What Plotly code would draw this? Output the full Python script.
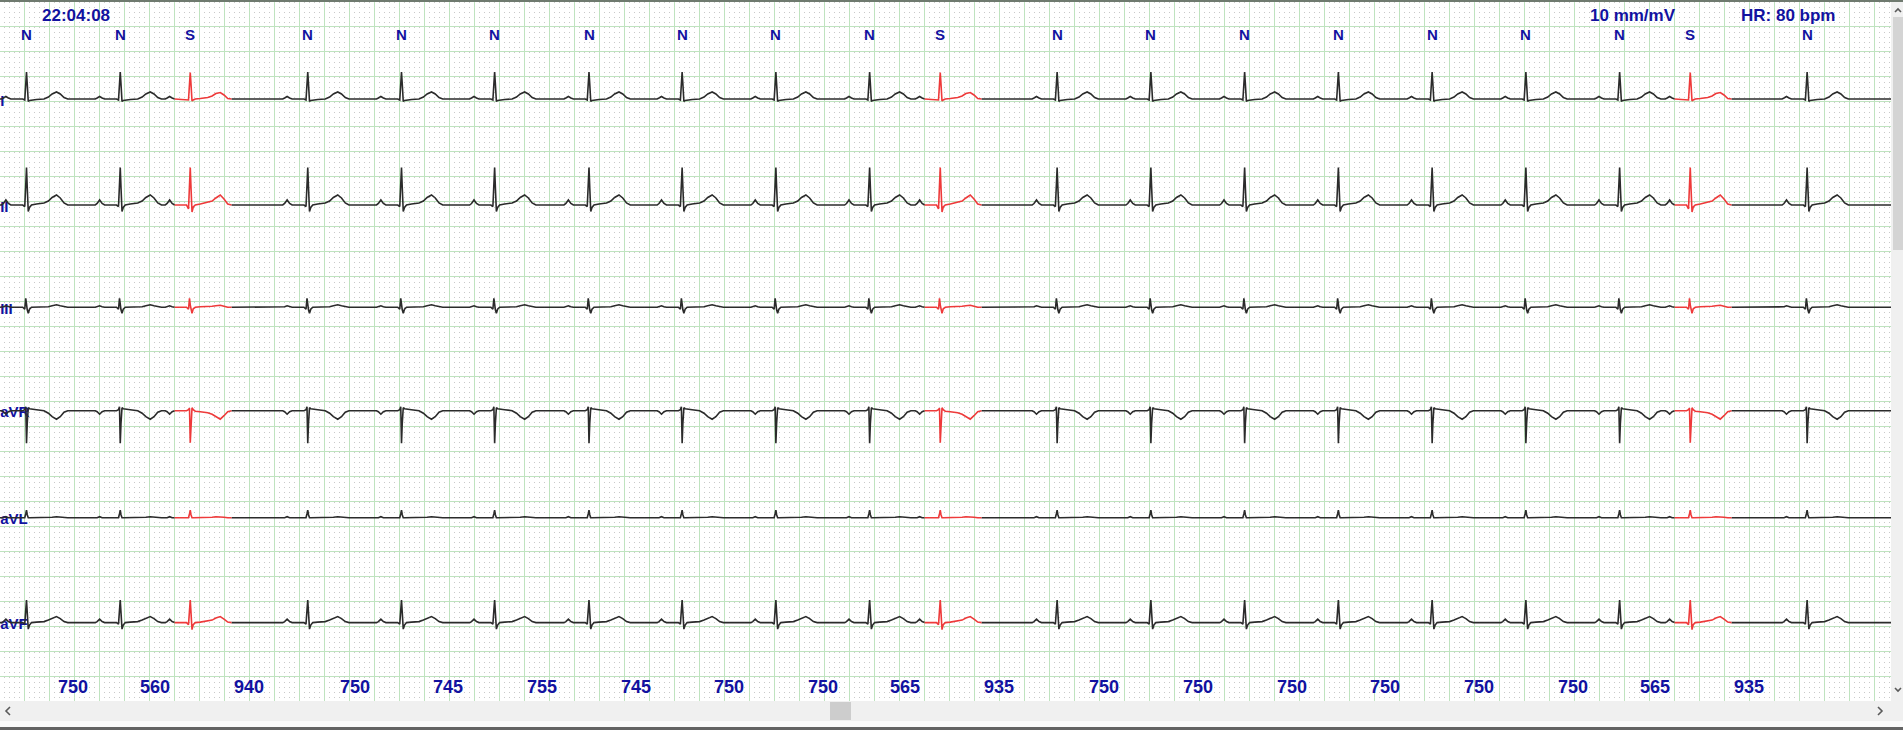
import plotly.graph_objects as go

# ---------------- data ----------------
beat_labels = ["N", "N", "S", "N", "N", "N", "N", "N", "N", "N",
               "S", "N", "N", "N", "N", "N", "N", "N", "S", "N"]
rr_intervals_ms = [750, 560, 940, 750, 745, 755, 745, 750, 750, 565,
                   935, 750, 750, 750, 750, 750, 750, 565, 935]
first_beat_ms = 20
record_time = "22:04:08"
gain_text = "10 mm/mV"
heart_rate_bpm = 80

lead_names = ["I", "II", "III", "aVR", "aVL", "aVF"]
lead_baselines_mv = [-1.946, -4.066, -6.112, -8.18, -10.32, -12.418]

# beat template sample offsets (ms from R peak)
tmpl_offsets_ms = [-200, -185, -165, -145, -125, -30, -14, -6, 0, 6, 14, 24,
                   40, 80, 140, 175, 205, 240, 270, 300, 330]

# normal-beat amplitudes (mV) per lead
n_I = [0, 0.02, 0.05, 0.02, 0, 0, -0.02, 0.30, 0.54, 0.30, -0.05, -0.03,
       -0.02, -0.01, 0.0, 0.04, 0.10, 0.14, 0.10, 0.03, 0]
n_II = [0, 0.03, 0.10, 0.03, 0, 0, -0.03, 0.40, 0.75, 0.35, -0.13, -0.05,
        0.0, 0.02, 0.04, 0.08, 0.15, 0.20, 0.14, 0.04, 0]
n_III = [0, 0.01, 0.03, 0.01, 0, 0, -0.04, 0.18, 0.05, -0.05, -0.12, -0.04,
         0, 0, 0, 0.01, 0.03, 0.05, 0.03, 0.01, 0]
n_aVR = [0, -0.02, -0.07, -0.02, 0, 0, 0.02, 0.08, -0.65, -0.25, 0.06, 0.04,
         0.03, 0.02, 0.0, -0.05, -0.12, -0.17, -0.12, -0.03, 0]
n_aVL = [0, 0, 0.02, 0, 0, 0, 0, 0.08, 0.15, 0.06, 0, 0,
         0, 0, 0, 0, 0.01, 0.02, 0.01, 0, 0]
n_aVF = [0, 0.02, 0.07, 0.02, 0, 0, -0.03, 0.25, 0.45, 0.20, -0.13, -0.05,
         0, 0.01, 0.02, 0.05, 0.09, 0.12, 0.08, 0.02, 0]

# supraventricular (S) beat amplitudes (mV) per lead
s_I = [0, 0.02, 0.05, 0.02, 0, -0.01, -0.02, 0.30, 0.53, 0.30, -0.04, -0.02,
       0.0, 0.01, 0.03, 0.06, 0.11, 0.13, 0.08, 0.01, 0]
s_II = [0, 0.03, 0.10, 0.03, 0, 0, -0.08, 0.40, 0.75, 0.35, -0.14, -0.04,
        0.0, 0.02, 0.05, 0.08, 0.14, 0.20, 0.12, 0.02, 0]
s_III = [0, 0.01, 0.03, 0.01, 0, 0, -0.04, 0.18, 0.05, -0.05, -0.12, -0.03,
         0.0, 0.01, 0.01, 0.02, 0.03, 0.04, 0.02, 0, 0]
s_aVR = [0, -0.02, -0.07, -0.02, 0, 0, 0.02, 0.05, -0.64, -0.25, 0.06, 0.02,
         -0.01, -0.02, -0.04, -0.07, -0.12, -0.17, -0.10, -0.02, 0]
s_aVL = [0, 0, 0.02, 0, 0, 0, 0, 0.08, 0.15, 0.06, 0, 0,
         0, 0, 0, 0.01, 0.02, 0.02, 0.01, 0, 0]
s_aVF = [0, 0.02, 0.07, 0.02, 0, 0, -0.04, 0.25, 0.45, 0.20, -0.14, -0.04,
         0, 0.01, 0.03, 0.05, 0.09, 0.12, 0.07, 0.01, 0]

n_templates = [n_I, n_II, n_III, n_aVR, n_aVL, n_aVF]
s_templates = [s_I, s_II, s_III, s_aVR, s_aVL, s_aVF]
red_start_idx = 4  # template index where the S-beat highlight starts

# ---------------- derived ----------------
beat_times = [first_beat_ms]
for rr in rr_intervals_ms:
    beat_times.append(beat_times[-1] + rr)

X_MIN, X_MAX = -192, 14936
Y_MIN, Y_MAX = -13.986, -0.006
PLOT_W, PLOT_H, PLOT_TOP = 1891, 699, 2

BLUE = "#1212a0"
FONT = "Liberation Sans, Arial, sans-serif"


def px(x):
    return x / PLOT_W


def py(y):
    return (PLOT_TOP + PLOT_H - y) / PLOT_H


fig = go.Figure()

# lead labels (drawn first so traces overlap them)
fig.add_trace(go.Scatter(
    x=[X_MIN + 1] * len(lead_names), y=[b - 0.06 for b in lead_baselines_mv],
    text=lead_names,
    mode="text", textposition="middle right", cliponaxis=False,
    textfont=dict(family=FONT, size=15, color=BLUE, weight="bold"),
    hoverinfo="skip", showlegend=False))

for li, name in enumerate(lead_names):
    base = lead_baselines_mv[li]
    bx, by = [X_MIN], [base]
    rx, ry = [], []
    for bt, lab in zip(beat_times, beat_labels):
        if lab == "S":
            tmpl = s_templates[li]
            for k, (o, a) in enumerate(zip(tmpl_offsets_ms, tmpl)):
                if k <= red_start_idx:
                    bx.append(bt + o); by.append(base + a)
                if k >= red_start_idx:
                    rx.append(bt + o); ry.append(base + a)
            bx.append(None); by.append(None)
            bx.append(bt + tmpl_offsets_ms[-1]); by.append(base + tmpl[-1])
            rx.append(None); ry.append(None)
        else:
            tmpl = n_templates[li]
            for o, a in zip(tmpl_offsets_ms, tmpl):
                bx.append(bt + o); by.append(base + a)
    bx.append(X_MAX); by.append(base)
    fig.add_trace(go.Scatter(x=bx, y=by, mode="lines",
                             line=dict(color="#2b2b2b", width=1.6),
                             connectgaps=False, hoverinfo="skip", showlegend=False))
    fig.add_trace(go.Scatter(x=rx, y=ry, mode="lines",
                             line=dict(color="#ee3a3a", width=1.6),
                             connectgaps=False, hoverinfo="skip", showlegend=False))

annotations = []
for bt, lab in zip(beat_times, beat_labels):
    annotations.append(dict(x=bt, y=-0.656, xref="x", yref="y", text=lab,
                            showarrow=False, xanchor="center", yanchor="middle",
                            font=dict(family=FONT, size=15, color=BLUE, weight="bold")))
for i, rr in enumerate(rr_intervals_ms):
    mid = (beat_times[i] + beat_times[i + 1]) / 2
    annotations.append(dict(x=mid, y=-13.706, xref="x", yref="y", text=str(rr),
                            showarrow=False, xanchor="center", yanchor="middle",
                            font=dict(family=FONT, size=18, color=BLUE, weight="bold")))
header = [(76, 15.3, record_time), (1633, 15.7, gain_text),
          (1788, 15.7, f"HR: {heart_rate_bpm} bpm")]
for hx, hy, txt in header:
    annotations.append(dict(x=px(hx), y=py(hy), xref="paper", yref="paper", text=txt,
                            showarrow=False, xanchor="center", yanchor="middle",
                            font=dict(family=FONT, size=17, color=BLUE, weight="bold")))

shapes = []
# top dark border
shapes.append(dict(type="rect", xref="paper", yref="paper", x0=0, x1=px(1903),
                   y0=py(2), y1=py(0), fillcolor="#6f7a6f", line=dict(width=0), layer="above"))
# horizontal scrollbar
shapes.append(dict(type="rect", xref="paper", yref="paper", x0=0, x1=px(1903),
                   y0=py(721), y1=py(701), fillcolor="#f0f0f0", line=dict(width=0)))
shapes.append(dict(type="rect", xref="paper", yref="paper", x0=0, x1=px(1903),
                   y0=py(727), y1=py(721), fillcolor="#fbfbfb", line=dict(width=0)))
shapes.append(dict(type="rect", xref="paper", yref="paper", x0=0, x1=px(1903),
                   y0=py(730), y1=py(727), fillcolor="#646464", line=dict(width=0)))
shapes.append(dict(type="rect", xref="paper", yref="paper", x0=px(830), x1=px(851),
                   y0=py(720), y1=py(702), fillcolor="#cdcdcd", line=dict(width=0)))
# vertical scrollbar
shapes.append(dict(type="rect", xref="paper", yref="paper", x0=px(1891), x1=px(1903),
                   y0=py(701), y1=py(2), fillcolor="#f0f0f0", line=dict(width=0)))
shapes.append(dict(type="rect", xref="paper", yref="paper", x0=px(1893), x1=px(1903),
                   y0=py(250), y1=py(17), fillcolor="#d4d4d4", line=dict(width=0)))


def chevron(points):
    d = "M " + " L ".join(f"{px(a)},{py(b)}" for a, b in points)
    return dict(type="path", xref="paper", yref="paper", path=d,
                line=dict(color="#5a5a5a", width=1.6))


shapes.append(chevron([(10, 707), (6, 711), (10, 715)]))
shapes.append(chevron([(1878, 707), (1882, 711), (1878, 715)]))
shapes.append(chevron([(1895, 12), (1898, 9), (1901, 12)]))
shapes.append(chevron([(1895, 688), (1898, 691), (1901, 688)]))

fig.update_layout(
    width=1903, height=730,
    margin=dict(l=0, r=12, t=2, b=29, pad=0),
    paper_bgcolor="#f0f0f0", plot_bgcolor="#ffffff",
    showlegend=False,
    annotations=annotations, shapes=shapes,
    xaxis=dict(range=[X_MIN, X_MAX], showticklabels=False, ticks="", zeroline=False,
               showline=False, showgrid=True, tick0=0, dtick=200,
               gridcolor="#bfe3bf", gridwidth=1,
               minor=dict(tick0=0, dtick=40, showgrid=True, gridcolor="#c9c9c9",
                          griddash="1px,4px", gridwidth=1)),
    yaxis=dict(range=[Y_MIN, Y_MAX], showticklabels=False, ticks="", zeroline=False,
               showline=False, showgrid=True, tick0=0, dtick=0.5,
               gridcolor="#bfe3bf", gridwidth=1),
)

fig.write_html("out.html", include_plotlyjs=True,
               config={"displayModeBar": False},
               post_script="document.body.style.margin='0';document.body.style.overflow='hidden';")
